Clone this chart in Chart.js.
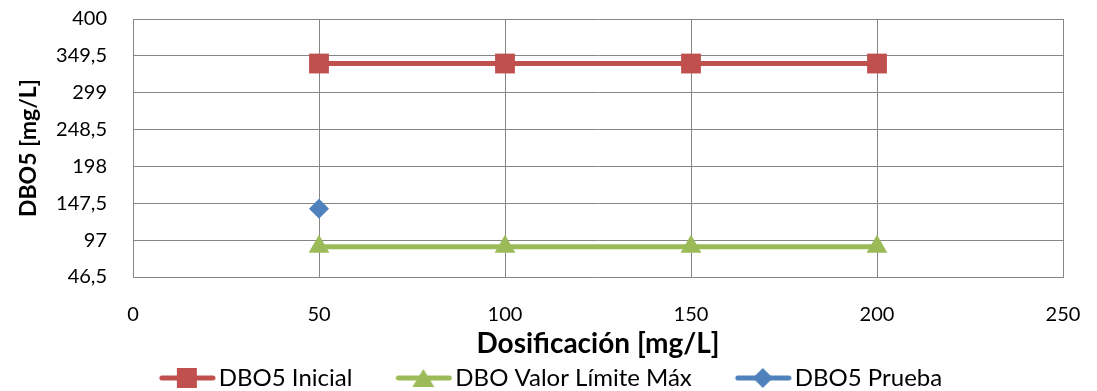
<!DOCTYPE html>
<html>
<head>
<meta charset="utf-8">
<script src="https://cdn.jsdelivr.net/npm/chart.js@4/dist/chart.umd.min.js"></script>
<style>
  html, body { margin: 0; padding: 0; background: #fff; }
</style>
</head>
<body>
<canvas id="chart" width="1097" height="391"></canvas>
<script>
// data
const dosis = [50, 100, 150, 200];
const dboInicial = [339, 339, 339, 339];
const dboLimite = [88, 88, 88, 88];
const pruebaDosis = [50];
const dboPrueba = [140];
const yTicks = [46.5, 97, 147.5, 198, 248.5, 299, 349.5, 400];
const xTicks = [0, 50, 100, 150, 200, 250];

const RED = '#C0504D';
const GREEN = '#9BBB59';
const BLUE = '#4F81BD';
const FONT = 'Lato, "Liberation Sans", sans-serif';

Chart.defaults.font.family = FONT;
Chart.defaults.font.size = 20;
Chart.defaults.color = '#000';

const toPoints = (xs, ys) => xs.map((x, i) => ({ x: x, y: ys[i] }));

// line+marker glyph for the legend (excel style), drawn at the right end of a wider canvas
// so the legend gets the right spacing between items
function legendGlyph(color, style) {
    const c = document.createElement('canvas');
    c.width = 104;
    c.height = 22;
    const g = c.getContext('2d');
    const x0 = 47;
    g.strokeStyle = color;
    g.fillStyle = color;
    g.lineWidth = 5;
    g.lineCap = 'round';
    g.beginPath();
    g.moveTo(x0 + 3, 11);
    g.lineTo(x0 + 54, 11);
    g.stroke();
    g.beginPath();
    if (style === 'rect') {
        g.rect(x0 + 18, 1, 20, 20);
    } else if (style === 'triangle') {
        g.moveTo(x0 + 28, 2);
        g.lineTo(x0 + 39, 20);
        g.lineTo(x0 + 17, 20);
        g.closePath();
    } else {
        g.moveTo(x0 + 28, 1);
        g.lineTo(x0 + 38, 11);
        g.lineTo(x0 + 28, 21);
        g.lineTo(x0 + 18, 11);
        g.closePath();
    }
    g.fill();
    return c;
}

const glyphs = [legendGlyph(RED, 'rect'), legendGlyph(GREEN, 'triangle'), legendGlyph(BLUE, 'diamond')];

// keep the legend band a fixed height
const legendHeight = {
    id: 'legendHeight',
    afterInit(chart) {
        const lg = chart.legend;
        const fit = lg.fit.bind(lg);
        lg.fit = function () {
            fit();
            this.height = 30;
        };
    }
};

const ctx = document.getElementById('chart').getContext('2d');
new Chart(ctx, {
    type: 'line',
    data: {
        datasets: [
            {
                label: 'DBO5 Inicial',
                data: toPoints(dosis, dboInicial),
                borderColor: RED,
                backgroundColor: RED,
                borderWidth: 5,
                pointStyle: 'rect',
                pointRadius: 14,
                pointHoverRadius: 14,
                pointBorderWidth: 0
            },
            {
                label: 'DBO Valor Límite Máx',
                data: toPoints(dosis, dboLimite),
                borderColor: GREEN,
                backgroundColor: GREEN,
                borderWidth: 5,
                pointStyle: 'triangle',
                pointRadius: 12,
                pointHoverRadius: 12,
                pointBorderWidth: 0
            },
            {
                label: 'DBO5 Prueba',
                data: toPoints(pruebaDosis, dboPrueba),
                borderColor: BLUE,
                backgroundColor: BLUE,
                borderWidth: 5,
                pointStyle: 'rectRot',
                pointRadius: 10,
                pointHoverRadius: 10,
                pointBorderWidth: 0
            }
        ]
    },
    plugins: [legendHeight],
    options: {
        responsive: false,
        animation: false,
        layout: { padding: { top: 19, right: 34, left: 0, bottom: 0 } },
        plugins: {
            tooltip: { enabled: false },
            legend: {
                position: 'bottom',
                labels: {
                    usePointStyle: true,
                    pointStyleWidth: 86,
                    padding: 5,
                    color: '#000',
                    font: { family: FONT, size: 24 },
                    generateLabels: (chart) => chart.data.datasets.map((ds, i) => ({
                        text: ds.label,
                        pointStyle: glyphs[i],
                        fillStyle: ds.borderColor,
                        strokeStyle: ds.borderColor,
                        lineWidth: 0,
                        fontColor: '#000',
                        datasetIndex: i
                    }))
                }
            }
        },
        scales: {
            x: {
                type: 'linear',
                min: 0,
                max: 250,
                afterBuildTicks: (axis) => { axis.ticks = xTicks.map(v => ({ value: v })); },
                afterFit: (axis) => {
                    axis.height = 84;
                    axis.paddingLeft = 0;
                    axis.paddingRight = 0;
                },
                grid: { color: '#868686', lineWidth: 1, drawTicks: false },
                border: { color: '#868686', width: 1 },
                ticks: { color: '#000', padding: 26, font: { family: FONT, size: 20 } },
                title: {
                    display: true,
                    text: 'Dosificación [mg/L]',
                    color: '#000',
                    padding: { top: 0, bottom: 0 },
                    font: { family: FONT, size: 28, weight: 'bold' }
                }
            },
            y: {
                min: 46.5,
                max: 400,
                afterBuildTicks: (axis) => { axis.ticks = yTicks.map(v => ({ value: v })); },
                afterFit: (axis) => {
                    axis.width = 133;
                    axis.paddingTop = 0;
                    axis.paddingBottom = 0;
                },
                grid: { color: '#868686', lineWidth: 1, drawTicks: false },
                border: { color: '#868686', width: 1 },
                ticks: {
                    color: '#000',
                    padding: 26,
                    font: { family: FONT, size: 20 },
                    callback: (v) => String(v).replace('.', ',')
                },
                title: {
                    display: true,
                    text: 'DBO5 [mg/L]',
                    color: '#000',
                    padding: { top: 15, bottom: 0 },
                    font: { family: FONT, size: 23, weight: 'bold' }
                }
            }
        }
    }
});
</script>
</body>
</html>
